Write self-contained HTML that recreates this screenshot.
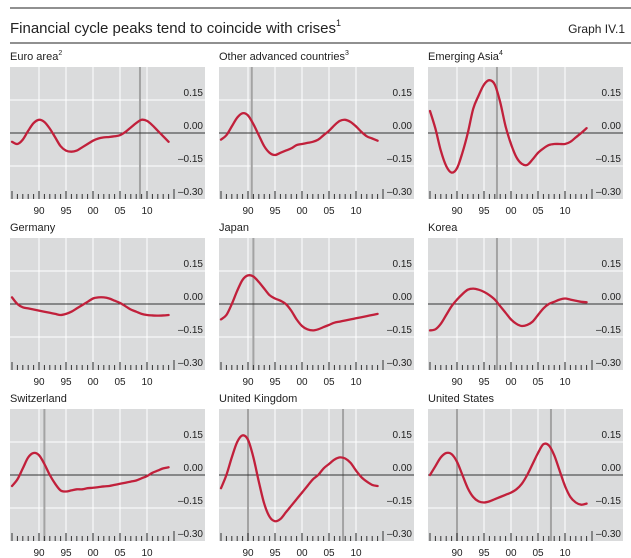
<!DOCTYPE html>
<html><head><meta charset="utf-8"><style>
body{margin:0;background:#fff;font-family:"Liberation Sans",sans-serif;}
svg{display:block}
</style></head><body>
<svg id="c" width="631" height="558" xmlns="http://www.w3.org/2000/svg">
<line x1="10" y1="8" x2="631" y2="8" stroke="#222" stroke-width="1"/>
<text x="10" y="33" font-size="15" fill="#222">Financial cycle peaks tend to coincide with crises<tspan font-size="9" dy="-7">1</tspan></text>
<text x="625" y="33" font-size="12" fill="#222" text-anchor="end">Graph IV.1</text>
<line x1="10" y1="43" x2="631" y2="43" stroke="#222" stroke-width="1"/>
</svg>
<script>
const panelNames = ["Euro area","Other advanced countries","Emerging Asia","Germany","Japan","Korea","Switzerland","United Kingdom","United States"];
const panelSup = ["2","3","4","","","","","",""];
const years = [1985,1986,1987,1988,1989,1990,1991,1992,1993,1994,1995,1996,1997,1998,1999,2000,2001,2002,2003,2004,2005,2006,2007,2008,2009,2010,2011,2012,2013,2014];
const euroArea = [-0.04,-0.05,-0.03,0.01,0.045,0.06,0.05,0.02,-0.02,-0.06,-0.08,-0.085,-0.08,-0.065,-0.05,-0.035,-0.025,-0.02,-0.018,-0.015,-0.01,0.005,0.025,0.045,0.06,0.055,0.035,0.01,-0.015,-0.04];
const otherAdvanced = [-0.03,-0.01,0.03,0.07,0.09,0.08,0.04,-0.01,-0.06,-0.09,-0.1,-0.09,-0.08,-0.07,-0.055,-0.05,-0.045,-0.04,-0.03,-0.01,0.01,0.035,0.055,0.06,0.05,0.03,0.005,-0.015,-0.025,-0.035];
const emergingAsia = [0.10,0.02,-0.08,-0.15,-0.18,-0.16,-0.09,0.0,0.11,0.17,0.22,0.24,0.22,0.14,0.03,-0.05,-0.11,-0.14,-0.145,-0.12,-0.09,-0.07,-0.055,-0.05,-0.05,-0.05,-0.04,-0.02,0.0,0.022];
const germany = [0.03,0.0,-0.015,-0.02,-0.025,-0.03,-0.035,-0.04,-0.045,-0.05,-0.045,-0.035,-0.02,-0.005,0.01,0.025,0.03,0.03,0.025,0.015,0.005,-0.01,-0.025,-0.035,-0.045,-0.05,-0.052,-0.053,-0.052,-0.05];
const japan = [-0.07,-0.05,0.0,0.06,0.11,0.13,0.125,0.1,0.07,0.04,0.025,0.015,0.0,-0.03,-0.07,-0.1,-0.115,-0.12,-0.115,-0.105,-0.095,-0.085,-0.08,-0.075,-0.07,-0.065,-0.06,-0.055,-0.05,-0.045];
const korea = [-0.12,-0.115,-0.09,-0.05,-0.01,0.02,0.045,0.065,0.07,0.065,0.055,0.04,0.02,-0.01,-0.04,-0.07,-0.09,-0.1,-0.095,-0.08,-0.05,-0.02,0.0,0.01,0.02,0.025,0.02,0.015,0.01,0.008];
const switzerland = [-0.05,-0.02,0.03,0.08,0.1,0.09,0.05,0.0,-0.04,-0.07,-0.075,-0.07,-0.065,-0.065,-0.06,-0.058,-0.055,-0.052,-0.05,-0.045,-0.04,-0.035,-0.03,-0.025,-0.015,-0.005,0.01,0.02,0.03,0.035];
const unitedKingdom = [-0.06,0.0,0.08,0.15,0.18,0.16,0.08,-0.03,-0.13,-0.19,-0.21,-0.2,-0.17,-0.14,-0.11,-0.08,-0.05,-0.02,0.0,0.03,0.05,0.07,0.08,0.075,0.055,0.02,-0.01,-0.03,-0.045,-0.05];
const unitedStates = [0.0,0.04,0.08,0.1,0.095,0.06,0.0,-0.06,-0.1,-0.12,-0.125,-0.12,-0.11,-0.1,-0.09,-0.08,-0.065,-0.04,0.0,0.05,0.1,0.14,0.135,0.09,0.02,-0.05,-0.1,-0.125,-0.135,-0.13];
const series = [euroArea,otherAdvanced,emergingAsia,germany,japan,korea,switzerland,unitedKingdom,unitedStates];
const crises = [[2008.7],[1990.7],[1997.4],[],[1991],[1997.4],[1991],[1990,2007.6],[1990,2007.4]];
const yTicks = [0.15,0,-0.15,-0.30];
const yTickLabels = ["0.15","0.00","–0.15","–0.30"];
const xLabelYears = [1990,1995,2000,2005,2010];
const xLabels = ["90","95","00","05","10"];

const NS="http://www.w3.org/2000/svg";
const svg=document.getElementById('c');
function mk(tag,attrs,parent){const e=document.createElementNS(NS,tag);for(const k in attrs)e.setAttribute(k,attrs[k]);(parent||svg).appendChild(e);return e;}
const colX=[10,219,428], rowY=[67,238,409], W=195, H=132;
series.forEach((vals,i)=>{
  const px=colX[i%3], py=rowY[Math.floor(i/3)];
  const g=mk('g',{});
  
  
  const xs=y=>px+29+(y-1990)*5.4;
  const ys=v=>py+66-v*220;
  const t=mk('text',{x:px,y:py-7,'font-size':11,fill:'#222'},g);
  
  
  t.textContent=panelNames[i];
  if(panelSup[i]){const s=mk('tspan',{'font-size':7,dy:-5},t);s.textContent=panelSup[i];}
  const bg=mk('rect',{x:px,y:py,width:W,height:H,fill:'#dadbdc'},g);
  
  
  xLabelYears.forEach((yr,k)=>{
    const l=mk('line',{x1:xs(yr),x2:xs(yr),y1:py,y2:py+H,stroke:'#fff','stroke-width':1},g);
    
    
    const tx=mk('text',{x:xs(yr),y:py+H+15,'font-size':10,fill:'#222','text-anchor':'middle'},g);
    
    
    tx.textContent=xLabels[k];
  });
  const l15=mk('line',{x1:px,x2:px+W,y1:ys(0.15),y2:ys(0.15),stroke:'#fff'},g);
  
  
  const lm15=mk('line',{x1:px,x2:px+W,y1:ys(-0.15),y2:ys(-0.15),stroke:'#fff'},g);
  
  
  crises[i].forEach(c=>{
    const cl=mk('line',{x1:xs(c),x2:xs(c),y1:py,y2:py+H,stroke:'#a3a3a3','stroke-width':2},g);
    
    
  });
  const z=mk('line',{x1:px,x2:px+W,y1:ys(0),y2:ys(0),stroke:'#333','stroke-width':1},g);
  
  
  for(let yr=1985;yr<=2015;yr++){
    const maj=yr%5==0;
    const tk=mk('line',{x1:xs(yr),x2:xs(yr),y1:py+H-(maj?(yr==2015?10:8):5),y2:py+H,stroke:'#333','stroke-width':1},g);
    
    
  }
  yTicks.forEach((v,k)=>{
    const yl=mk('text',{x:px+W-2,y:ys(v)-4,'font-size':10,fill:'#222','text-anchor':'end'},g);
    
    
    yl.textContent=yTickLabels[k];
  });
  const pts=vals.map((v,k)=>[xs(years[k]),ys(v)]);
  let d='M'+pts[0][0]+','+pts[0][1];
  for(let k=0;k<pts.length-1;k++){
    const p0=pts[Math.max(k-1,0)],p1=pts[k],p2=pts[k+1],p3=pts[Math.min(k+2,pts.length-1)];
    d+=' C'+(p1[0]+(p2[0]-p0[0])/6)+','+(p1[1]+(p2[1]-p0[1])/6)+' '+(p2[0]-(p3[0]-p1[0])/6)+','+(p2[1]-(p3[1]-p1[1])/6)+' '+p2[0]+','+p2[1];
  }
  const path=mk('path',{d:d,fill:'none',stroke:'#c1203b','stroke-width':2.3,'stroke-linecap':'round','stroke-linejoin':'round'},g);
  
  
});
</script>
</body></html>
